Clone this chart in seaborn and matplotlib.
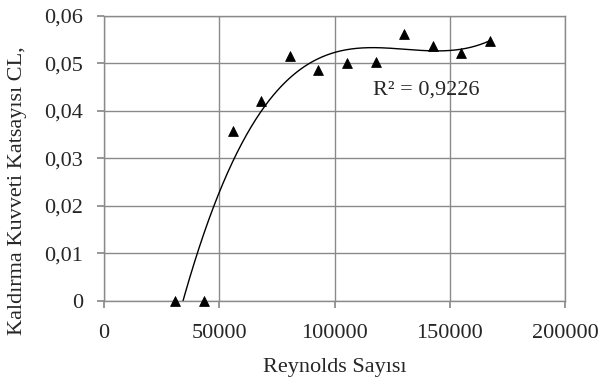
import numpy as np
import pandas as pd
import matplotlib
matplotlib.use("Agg")
import matplotlib.pyplot as plt
import seaborn as sns
from matplotlib.ticker import FuncFormatter

reynolds = [31000, 43400, 55800, 68200, 80600, 93000, 105400, 117800, 130200, 142600, 155000, 167400]
cl = [0.0, 0.0, 0.0357, 0.042, 0.0515, 0.0486, 0.050, 0.0503, 0.0561, 0.0536, 0.0522, 0.0547]
x_ticks = [0, 50000, 100000, 150000, 200000]
y_ticks = [0, 0.01, 0.02, 0.03, 0.04, 0.05, 0.06]
trend_degree = 3

df = pd.DataFrame({"Re": reynolds, "CL": cl})

sns.set_theme(style="white")
plt.rcParams['font.family'] = ['Liberation Serif', 'DejaVu Serif']

fig = plt.figure(figsize=(6.01, 3.81), dpi=100)
ax = fig.add_axes([104/601, 1 - 300.7/381, (565-104)/601, (300.7-15.7)/381])

# polynomial trendline (Excel-style) fitted to the data
xs = np.array(reynolds) / 1e5
coef = np.polyfit(xs, np.array(cl), trend_degree)
xx = np.linspace(min(reynolds), max(reynolds), 400)
yy = np.polyval(coef, xx / 1e5)
trend = pd.DataFrame({"Re": xx, "CL": yy})
sns.lineplot(data=trend, x="Re", y="CL", ax=ax, color="black", linewidth=1.0)
sns.scatterplot(data=df, x="Re", y="CL", ax=ax, marker="^", color="black", s=50,
                edgecolor="black", zorder=5, clip_on=False)

ax.set_xlim(0, 200000)
ax.set_ylim(0, 0.06)
ax.set_xticks(x_ticks)
ax.set_yticks(y_ticks)
ax.xaxis.set_major_formatter(FuncFormatter(lambda v, p: f"{int(v)}"))
ax.yaxis.set_major_formatter(FuncFormatter(lambda v, p: "0" if v == 0 else f"{v:.2f}".replace(".", ",")))
ax.grid(True, color="#8a8a8a", linewidth=1.0)
for s in ax.spines.values():
    s.set_color("#8a8a8a")
    s.set_linewidth(1.0)
ax.tick_params(axis="x", length=5, color="#8a8a8a", direction="out", labelsize=16, pad=12, bottom=True)
ax.tick_params(axis="y", length=5, color="#8a8a8a", direction="out", labelsize=16, pad=10, left=True)
ax.set_xlabel("Reynolds Sayısı", fontsize=16)
ax.set_ylabel("Kaldırma Kuvveti Katsayısı CL,", fontsize=16)
ax.xaxis.set_label_coords(0.501, -0.236)
ax.xaxis.label.set_va("center")
ax.yaxis.set_label_coords(-0.187, 0.385)
ax.yaxis.label.set_va("center")
ax.text(116700, 0.0444, "R² = 0,9226", fontsize=16, va="center", ha="left")

fig.savefig("out.png", dpi=100)
